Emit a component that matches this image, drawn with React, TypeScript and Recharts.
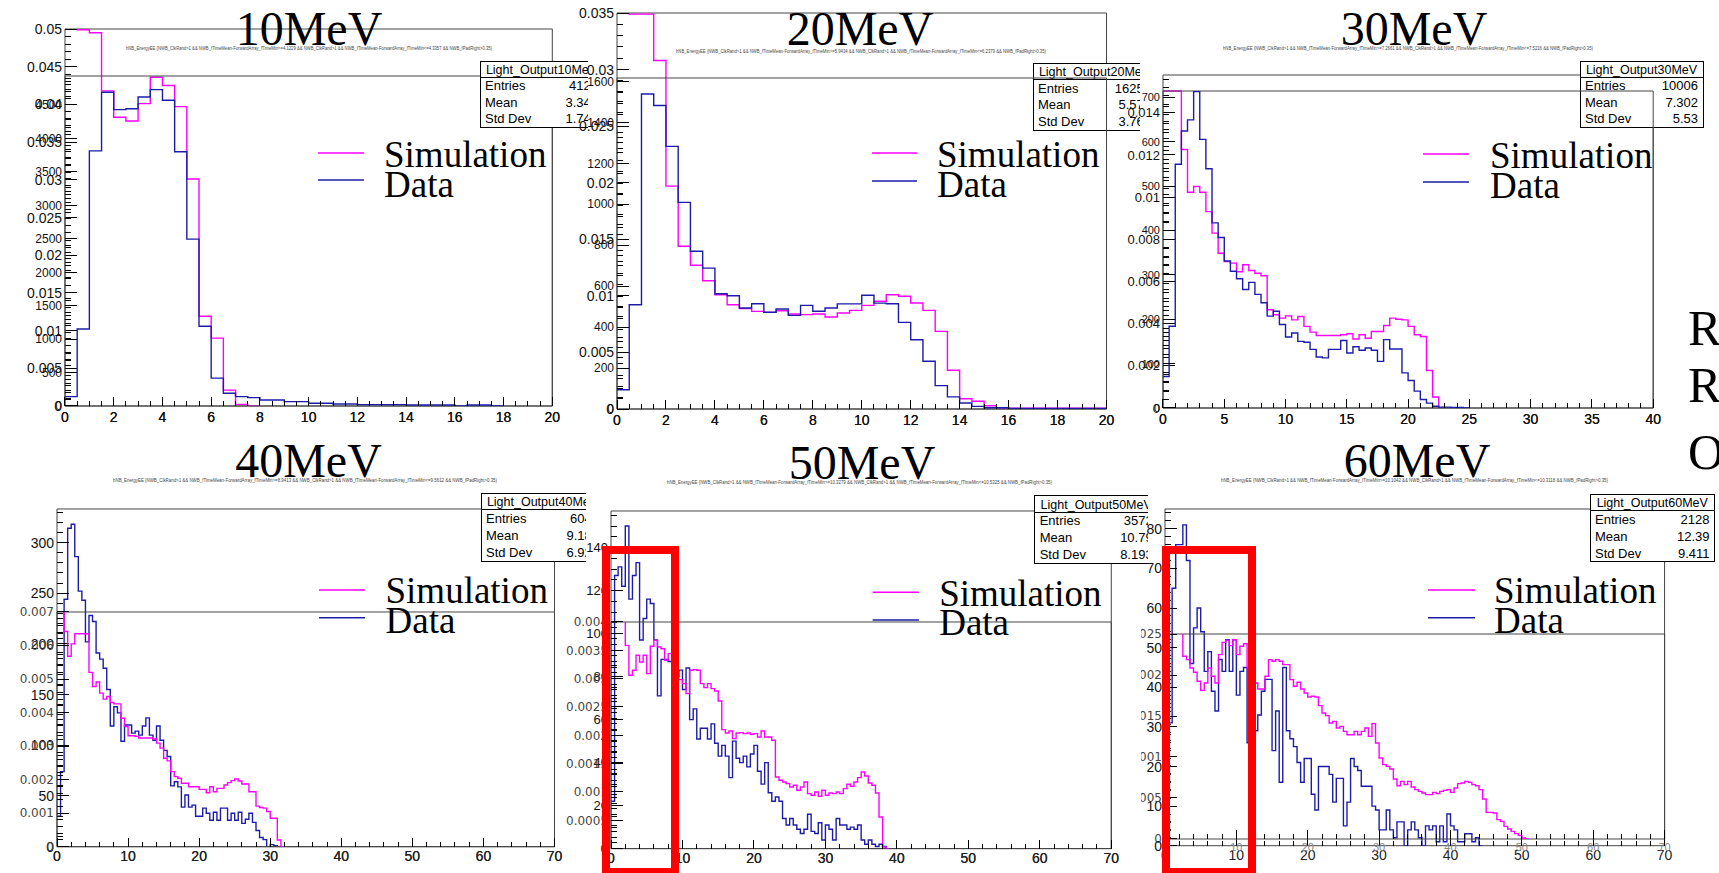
import React from "react";
import { ComposedChart, Line, XAxis, YAxis, ReferenceArea } from "recharts";

const BIN_WIDTH = 0.5;
const SIM_COLOR = "#ff00ff";
const DATA_COLOR = "#1c1ca8";
const SANS = "'Liberation Sans', Arial, sans-serif";
const SERIF = "'Liberation Serif', 'Times New Roman', serif";

// ---- bin contents, 0.5 wide bins starting at 0 ----
// Simulation is read on the normalised axis, Data on the counts axis
const sim10 = [0.06, 0.0499, 0.0495, 0.0418, 0.0383, 0.0378, 0.0401, 0.0436, 0.0425, 0.0397, 0.0301, 0.0119, 0.009, 0.0021, 0.0002, 0];
const data10 = [140, 1152, 3813, 4690, 4430, 4444, 4620, 4730, 4570, 3800, 2495, 1192, 416, 190, 140, 125, 90, 90, 65, 65, 40, 40, 30, 30, 20, 20, 20, 20, 15, 15, 15, 15, 0, 15, 15, 0];

const sim20 = [0.04, 0.0349, 0.0349, 0.0308, 0.0197, 0.01438, 0.0127, 0.01134, 0.0101, 0.00922, 0.00887, 0.00863, 0.00854, 0.00869, 0.0084, 0.00834, 0.0084, 0.00813, 0.00848, 0.00872, 0.00916, 0.00952, 0.0101, 0.00996, 0.00937, 0.00872, 0.00686, 0.00342, 0.00091, 0.00068, 0.00029, 0.00008, 0.00008, 0.00008, 0.00008, 0.00008, 0.00008, 0.00008, 0.00008, 0.00008];
const data20 = [94, 509, 1538, 1482, 1282, 1009, 770, 688, 563, 553, 493, 514, 472, 488, 457, 506, 477, 493, 513, 513, 555, 517, 514, 423, 338, 233, 114, 59, 29, 13, 6, 6, 3, 3, 3, 3, 3, 3, 3, 3];

const sim30 = [0.01503, 0.01503, 0.01503, 0.01226, 0.01023, 0.0105, 0.01023, 0.00931, 0.00829, 0.00734, 0.00694, 0.00687, 0.00646, 0.00679, 0.00652, 0.00639, 0.00627, 0.00466, 0.00442, 0.00426, 0.00437, 0.00418, 0.00434, 0.00387, 0.0036, 0.00344, 0.00344, 0.00344, 0.00344, 0.00347, 0.00352, 0.00327, 0.00347, 0.00331, 0.00363, 0.00363, 0.00391, 0.00426, 0.00421, 0.00418, 0.00387, 0.00347, 0.00339, 0.00178, 0.00052, 0];
const data30 = [71, 184, 549, 624, 649, 713, 605, 539, 417, 384, 331, 308, 291, 267, 283, 256, 237, 207, 218, 188, 160, 169, 150, 148, 132, 115, 113, 132, 132, 152, 124, 138, 130, 135, 130, 105, 154, 133, 133, 79, 62, 38, 19, 11, 4, 2, 2, 1, 1, 0];

const sim40 = [0.0075, 0.0075, 0.00642, 0.00568, 0.00605, 0.00635, 0.00635, 0.00635, 0.00635, 0.0052, 0.00478, 0.00491, 0.00458, 0.0044, 0.00448, 0.0043, 0.00426, 0.00426, 0.00383, 0.00358, 0.00331, 0.00331, 0.00329, 0.00324, 0.00324, 0.00324, 0.00324, 0.00321, 0.00309, 0.00294, 0.00264, 0.00256, 0.00224, 0.00209, 0.00204, 0.00189, 0.00189, 0.00179, 0.00179, 0.00179, 0.00171, 0.00171, 0.00161, 0.00179, 0.00164, 0.00174, 0.00174, 0.00184, 0.00191, 0.00197, 0.00202, 0.00196, 0.00187, 0.00187, 0.00164, 0.00164, 0.00121, 0.00117, 0.00115, 0.00105, 0.00085, 0.00085, 0.0002, 0];
const data40 = [30, 74, 244, 314, 318, 286, 252, 243, 202, 228, 222, 191, 185, 176, 155, 119, 138, 132, 104, 120, 120, 112, 114, 110, 119, 127, 110, 105, 119, 105, 95, 89, 60, 64, 59, 39, 51, 39, 41, 30, 30, 38, 33, 26, 34, 26, 38, 38, 26, 33, 26, 34, 23, 27, 33, 24, 16, 9, 7, 0, 2, 1, 0];

const sim50 = [0.0045, 0.0045, 0.0045, 0.0045, 0.003588, 0.003059, 0.003147, 0.003412, 0.003294, 0.003412, 0.003088, 0.003571, 0.003676, 0.003559, 0.003529, 0.003324, 0.003441, 0.0035, 0.003118, 0.002982, 0.002912, 0.002735, 0.003147, 0.003159, 0.003147, 0.002912, 0.002841, 0.002912, 0.002824, 0.002782, 0.002606, 0.0021, 0.002041, 0.002076, 0.001941, 0.002041, 0.002047, 0.002029, 0.002041, 0.002018, 0.002029, 0.001971, 0.002076, 0.001971, 0.001971, 0.001912, 0.001265, 0.001206, 0.001176, 0.001147, 0.001088, 0.001118, 0.001029, 0.001088, 0.001176, 0.000971, 0.000941, 0.001, 0.000924, 0.001029, 0.000941, 0.000982, 0.000971, 0.001, 0.000971, 0.001059, 0.001135, 0.0011, 0.001176, 0.001253, 0.001353, 0.001282, 0.001159, 0.001118, 0.000982, 0.000559, 0.00003, 0];
const data50 = [22, 127, 131, 122, 150, 116, 127, 133, 97, 107, 116, 114, 97, 71, 88, 88, 87, 85, 80, 83, 74, 84, 60, 65, 51, 56, 56, 51, 58, 49, 43, 48, 43, 33, 50, 42, 40, 43, 38, 44, 48, 36, 30, 40, 26, 22, 24, 22, 14, 11, 14, 11, 9, 7, 9, 16, 8, 7, 12, 4, 11, 9, 4, 14, 11, 11, 9, 10, 9, 11, 4, 2, 4, 2, 1, 2, 1, 0];

const sim60 = [0.003, 0.003, 0.003, 0.003, 0.003, 0.002228, 0.002187, 0.002085, 0.002033, 0.001923, 0.001813, 0.001902, 0.002085, 0.001984, 0.001902, 0.002248, 0.002398, 0.002423, 0.002358, 0.002431, 0.002248, 0.00235, 0.002382, 0.002085, 0.001984, 0.001902, 0.001829, 0.001829, 0.001984, 0.002187, 0.002167, 0.002187, 0.002167, 0.002126, 0.002126, 0.001943, 0.001862, 0.001911, 0.001829, 0.00178, 0.001732, 0.00174, 0.001732, 0.001626, 0.001537, 0.001504, 0.001415, 0.001435, 0.001354, 0.001374, 0.001313, 0.001272, 0.001272, 0.001313, 0.001272, 0.001313, 0.001354, 0.001252, 0.001407, 0.001171, 0.000988, 0.000907, 0.000886, 0.000854, 0.000732, 0.00065, 0.000703, 0.000663, 0.000703, 0.000634, 0.000602, 0.000581, 0.000561, 0.000541, 0.000541, 0.000569, 0.000553, 0.000581, 0.000593, 0.000602, 0.000569, 0.000622, 0.000675, 0.000683, 0.000703, 0.000691, 0.000663, 0.00065, 0.000602, 0.000488, 0.000325, 0.000325, 0.000317, 0.000236, 0.000215, 0.000154, 0.000122, 0.000093, 0.000065, 0.000041, 0.000012, 0];
const data60 = [0, 31, 65, 76, 76, 81, 72, 46, 55, 60, 54, 44, 49, 39, 34, 47, 44, 52, 44, 52, 38, 44, 45, 26, 29, 29, 33, 39, 42, 42, 24, 34, 16, 45, 29, 27, 25, 21, 16, 22, 22, 13, 9, 20, 20, 20, 18, 11, 17, 17, 5, 11, 22, 20, 19, 15, 15, 15, 10, 9, 4, 4, 9, 4, 2, 6, 6, 0, 4, 6, 4, 2, 0, 5, 4, 5, 1, 5, 1, 8, 5, 4, 1, 1, 3, 3, 1, 2, 0];

// ---- axis tick labels ----
const xTicks20 = [0, 2, 4, 6, 8, 10, 12, 14, 16, 18, 20];
const xTicks40 = [0, 5, 10, 15, 20, 25, 30, 35, 40];
const xTicks70 = [0, 10, 20, 30, 40, 50, 60, 70];
const fracTicks10 = [0, 0.005, 0.01, 0.015, 0.02, 0.025, 0.03, 0.035, 0.04, 0.045, 0.05];
const countTicks10 = [0, 500, 1000, 1500, 2000, 2500, 3000, 3500, 4000, 4500];
const fracTicks20 = [0, 0.005, 0.01, 0.015, 0.02, 0.025, 0.03, 0.035];
const countTicks20 = [0, 200, 400, 600, 800, 1000, 1200, 1400, 1600];
const fracTicks30 = [0, 0.002, 0.004, 0.006, 0.008, 0.01, 0.012, 0.014];
const countTicks30 = [0, 100, 200, 300, 400, 500, 600, 700];
const countTicks40 = [0, 50, 100, 150, 200, 250, 300];
const fracTicks40 = [0, 0.001, 0.002, 0.003, 0.004, 0.005, 0.006, 0.007];
const countTicks50 = [0, 20, 40, 60, 80, 100, 120, 140];
const fracTicks50 = [0, 0.0005, 0.001, 0.0015, 0.002, 0.0025, 0.003, 0.0035, 0.004];
const countTicks60 = [0, 10, 20, 30, 40, 50, 60, 70, 80];
const fracTicks60 = [0, 0.0005, 0.001, 0.0015, 0.002, 0.0025];

const FORMULA = (lo: string, hi: string) =>
  `hNB_EnergyEE {NWB_ClkRand>1 && NWB_fTimeMean-ForwardArray_fTimeMin>=${lo} && NWB_ClkRand>1 && NWB_fTimeMean-ForwardArray_fTimeMin<=${hi} && NWB_fPadRight>0.35}`;

type PadSpec = {
  x0: number; y0: number; w: number; h: number;
  xMax: number; xMajor: number[]; xMinor: number;
  xFont: number; xColor: string; xDy: number;
  yMax: number; yMajor: number[]; yMinor: number;
  yFont: number; yColor: string; yFamily?: string;
  vals: number[]; color: string;
};

function toRows(vals: number[]) {
  const rows = vals.map((v, i) => ({ x: i * BIN_WIDTH, v }));
  rows.push({ x: vals.length * BIN_WIDTH, v: vals[vals.length - 1] });
  return rows;
}

function allTicks(max: number, step: number, major: number[]) {
  const out: number[] = [];
  for (let k = 0; k * step <= max + 1e-12; k++) out.push(Number((k * step).toPrecision(10)));
  major.forEach((m) => {
    if (!out.some((t) => Math.abs(t - m) < step * 1e-3)) out.push(m);
  });
  return out.sort((a, b) => a - b);
}

function fmt(v: number) {
  if (Math.abs(v) < 1e-12) return "0";
  return String(Number(v.toPrecision(6)));
}

function Pad({ p, ox, oy }: { p: PadSpec; ox: number; oy: number }) {
  const ML = 80, MR = 18, MT = 12, MB = 30;
  const isMajX = (v: number) => p.xMajor.some((m) => Math.abs(m - v) < p.xMinor * 1e-3);
  const isMajY = (v: number) => p.yMajor.some((m) => Math.abs(m - v) < p.yMinor * 1e-3);
  const xt = allTicks(p.xMax, p.xMinor, p.xMajor);
  const yt = allTicks(p.yMax, p.yMinor, p.yMajor);

  const xTick = (props: any) => {
    const { x, y, payload } = props;
    const maj = isMajX(payload.value);
    return (
      <g>
        <line x1={x} x2={x} y1={y} y2={y - (maj ? 9 : 5)} stroke="#000" strokeWidth={1} shapeRendering="crispEdges" />
        {maj && (
          <text x={x} y={y + p.xDy} textAnchor="middle" fontSize={p.xFont} fill={p.xColor} fontFamily={SANS}>
            {fmt(payload.value)}
          </text>
        )}
      </g>
    );
  };
  const yTick = (props: any) => {
    const { x, y, payload } = props;
    const maj = isMajY(payload.value);
    return (
      <g>
        <line x1={x} x2={x + (maj ? 12 : 6)} y1={y} y2={y} stroke="#000" strokeWidth={1} shapeRendering="crispEdges" />
        {maj && (
          <text x={x - 3} y={y} dy="0.36em" textAnchor="end" fontSize={p.yFont} fill={p.yColor} fontFamily={p.yFamily || SANS}>
            {fmt(payload.value)}
          </text>
        )}
      </g>
    );
  };

  return (
    <div style={{ position: "absolute", left: p.x0 - ML - ox, top: p.y0 - MT - oy }}>
      <ComposedChart
        width={p.w + ML + MR}
        height={p.h + MT + MB}
        data={toRows(p.vals)}
        margin={{ top: MT, right: MR, left: ML - 1, bottom: MB - 1 }}
      >
        <XAxis
          dataKey="x" type="number" domain={[0, p.xMax]} allowDataOverflow ticks={xt} interval={0}
          height={1} tickSize={0} tickMargin={0} axisLine={false} tickLine={false} tick={xTick}
        />
        <YAxis
          type="number" domain={[0, p.yMax]} allowDataOverflow ticks={yt} interval={0}
          width={1} tickSize={0} tickMargin={0} axisLine={false} tickLine={false} tick={yTick}
        />
        <ReferenceArea x1={0} x2={p.xMax} y1={0} y2={p.yMax} fill="none" fillOpacity={0} stroke="#444" strokeWidth={1} ifOverflow="visible" />
        <Line type="stepAfter" dataKey="v" stroke={p.color} strokeWidth={1.4} dot={false} isAnimationActive={false} />
      </ComposedChart>
    </div>
  );
}

type Box = { x: number; y: number; w: number; h: number; title: string; entries: string; mean: string; std: string };
type Legend = { lx1: number; lx2: number; simY: number; dataY: number; tx: number; simBase: number; dataBase: number };
type PanelSpec = {
  crop: [number, number, number, number];
  outer: PadSpec; inner: PadSpec;
  title: string; titleX: number; titleY: number;
  formula: string; fx1: number; fx2: number; fy: number;
  box: Box; boxUnder: boolean; legend: Legend;
};

function StatsBox({ b }: { b: Box }) {
  const rowH = (b.h - 16.5) / 3;
  const rows = [["Entries", b.entries], ["Mean", b.mean], ["Std Dev", b.std]];
  return (
    <g fontFamily={SANS} fontSize={13} fill="#000">
      <rect x={b.x} y={b.y} width={b.w} height={b.h} fill="#fff" stroke="#000" strokeWidth={1} shapeRendering="crispEdges" />
      <line x1={b.x} x2={b.x + b.w} y1={b.y + 16.5} y2={b.y + 16.5} stroke="#000" shapeRendering="crispEdges" />
      <text x={b.x + b.w / 2} y={b.y + 13} textAnchor="middle" fontSize={12.5}>{b.title}</text>
      {rows.map((r, i) => (
        <g key={r[0]}>
          <text x={b.x + 5} y={b.y + 16.5 + rowH * (i + 0.5) + 4.6}>{r[0]}</text>
          <text x={b.x + b.w - 5} y={b.y + 16.5 + rowH * (i + 0.5) + 4.6} textAnchor="end">{r[1]}</text>
        </g>
      ))}
    </g>
  );
}

function Panel({ s }: { s: PanelSpec }) {
  const [cx, cy, cw, ch] = s.crop;
  const L = s.legend;
  const under = (
    <svg width={cw} height={ch} style={{ position: "absolute", left: 0, top: 0 }}>
      <g transform={`translate(${-cx},${-cy})`}>{s.boxUnder && <StatsBox b={s.box} />}</g>
    </svg>
  );
  return (
    <div style={{ position: "absolute", left: cx, top: cy, width: cw, height: ch, overflow: "hidden" }}>
      <Pad p={s.outer} ox={cx} oy={cy} />
      {under}
      <Pad p={s.inner} ox={cx} oy={cy} />
      <svg width={cw} height={ch} style={{ position: "absolute", left: 0, top: 0 }}>
        <g transform={`translate(${-cx},${-cy})`}>
          {!s.boxUnder && <StatsBox b={s.box} />}
          <text x={s.titleX} y={s.titleY} textAnchor="middle" fontFamily={SERIF} fontSize={48} fill="#000">{s.title}</text>
          <text x={s.fx1} y={s.fy} fontFamily={SANS} fontSize={4.5} fill="#444" textLength={s.fx2 - s.fx1} lengthAdjust="spacingAndGlyphs">{s.formula}</text>
          <line x1={L.lx1} x2={L.lx2} y1={L.simY} y2={L.simY} stroke={SIM_COLOR} strokeWidth={1.6} />
          <line x1={L.lx1} x2={L.lx2} y1={L.dataY} y2={L.dataY} stroke={DATA_COLOR} strokeWidth={1.6} />
          <text x={L.tx} y={L.simBase} fontFamily={SERIF} fontSize={37} fill="#000">Simulation</text>
          <text x={L.tx} y={L.dataBase} fontFamily={SERIF} fontSize={37} fill="#000">Data</text>
        </g>
      </svg>
    </div>
  );
}

const row1X = { xFont: 14, xColor: "#111", xDy: 16 };
const row2X = { xFont: 14, xColor: "#222", xDy: 14 };

const panels: PanelSpec[] = [
  {
    crop: [0, 0, 588, 432],
    outer: { x0: 64.7, y0: 29, w: 487.3, h: 377, xMax: 20, xMajor: xTicks20, xMinor: 0.5, ...row1X, yMax: 0.05, yMajor: fracTicks10, yMinor: 0.001, yFont: 14, yColor: "#111", vals: sim10, color: SIM_COLOR },
    inner: { x0: 64.7, y0: 76, w: 487.3, h: 330, xMax: 20, xMajor: xTicks20, xMinor: 0.5, ...row1X, yMax: 4933, yMajor: countTicks10, yMinor: 100, yFont: 12, yColor: "#111", vals: data10, color: DATA_COLOR },
    title: "10MeV", titleX: 309, titleY: 45,
    formula: FORMULA("4.1229", "4.3357"), fx1: 126, fx2: 492, fy: 50,
    box: { x: 480, y: 61, w: 123, h: 66, title: "Light_Output10MeV", entries: "4125", mean: "3.345", std: "1.742" },
    boxUnder: false,
    legend: { lx1: 318, lx2: 364, simY: 153, dataY: 180, tx: 384, simBase: 167, dataBase: 197 },
  },
  {
    crop: [566, 0, 574, 432],
    outer: { x0: 617.3, y0: 13.3, w: 489.5, h: 396, xMax: 20, xMajor: xTicks20, xMinor: 0.5, ...row1X, yMax: 0.035, yMajor: fracTicks20, yMinor: 0.001, yFont: 14, yColor: "#111", vals: sim20, color: SIM_COLOR },
    inner: { x0: 617.3, y0: 78.3, w: 489.5, h: 331, xMax: 20, xMajor: xTicks20, xMinor: 0.5, ...row1X, yMax: 1616, yMajor: countTicks20, yMinor: 50, yFont: 12, yColor: "#111", vals: data20, color: DATA_COLOR },
    title: "20MeV", titleX: 860, titleY: 45,
    formula: FORMULA("5.9434", "6.2379"), fx1: 676, fx2: 1046, fy: 53,
    box: { x: 1033, y: 63, w: 123, h: 67, title: "Light_Output20MeV", entries: "16253", mean: "5.573", std: "3.763" },
    boxUnder: true,
    legend: { lx1: 872, lx2: 917, simY: 153, dataY: 181, tx: 937, simBase: 167, dataBase: 197 },
  },
  {
    crop: [1116, 0, 603, 432],
    outer: { x0: 1163.3, y0: 75, w: 490.2, h: 333, xMax: 40, xMajor: xTicks40, xMinor: 1, ...row1X, yMax: 0.01579, yMajor: fracTicks30, yMinor: 0.0004, yFont: 13, yColor: "#111", vals: sim30, color: SIM_COLOR },
    inner: { x0: 1163.3, y0: 91, w: 490.2, h: 317, xMax: 40, xMajor: xTicks40, xMinor: 1, ...row1X, yMax: 714, yMajor: countTicks30, yMinor: 20, yFont: 11, yColor: "#111", vals: data30, color: DATA_COLOR },
    title: "30MeV", titleX: 1414, titleY: 45,
    formula: FORMULA("7.2661", "7.5216"), fx1: 1223, fx2: 1593, fy: 50,
    box: { x: 1580, y: 61, w: 123, h: 66, title: "Light_Output30MeV", entries: "10006", mean: "7.302", std: "5.53" },
    boxUnder: true,
    legend: { lx1: 1423, lx2: 1469, simY: 154, dataY: 182, tx: 1490, simBase: 168, dataBase: 198 },
  },
  {
    crop: [0, 432, 586, 441],
    outer: { x0: 57.3, y0: 509.3, w: 497.5, h: 337.7, xMax: 70, xMajor: xTicks70, xMinor: 2, ...row2X, yMax: 333, yMajor: countTicks40, yMinor: 10, yFont: 14, yColor: "#111", vals: data40, color: DATA_COLOR },
    inner: { x0: 57.3, y0: 612.3, w: 497.5, h: 234.7, xMax: 70, xMajor: xTicks70, xMinor: 2, ...row2X, yMax: 0.007, yMajor: fracTicks40, yMinor: 0.0002, yFont: 12, yColor: "#444", yFamily: "'DejaVu Sans', sans-serif", vals: sim40, color: SIM_COLOR },
    title: "40MeV", titleX: 308.5, titleY: 477,
    formula: FORMULA("8.9413", "9.5612"), fx1: 113, fx2: 497, fy: 482,
    box: { x: 481, y: 493.3, w: 123, h: 67.7, title: "Light_Output40MeV", entries: "6043", mean: "9.183", std: "6.921" },
    boxUnder: false,
    legend: { lx1: 319, lx2: 365, simY: 590, dataY: 617.7, tx: 385.5, simBase: 603.3, dataBase: 632.7 },
  },
  {
    crop: [556, 432, 592, 441],
    outer: { x0: 610.7, y0: 510.7, w: 500.3, h: 337.6, xMax: 70, xMajor: xTicks70, xMinor: 2, ...row2X, yMax: 157, yMajor: countTicks50, yMinor: 5, yFont: 13, yColor: "#111", vals: data50, color: DATA_COLOR },
    inner: { x0: 610.7, y0: 621.7, w: 500.3, h: 226.6, xMax: 70, xMajor: xTicks70, xMinor: 2, ...row2X, yMax: 0.004, yMajor: fracTicks50, yMinor: 0.0001, yFont: 12, yColor: "#444", yFamily: "'DejaVu Sans', sans-serif", vals: sim50, color: SIM_COLOR },
    title: "50MeV", titleX: 862, titleY: 479,
    formula: FORMULA("10.3279", "10.5325"), fx1: 667, fx2: 1052, fy: 484,
    box: { x: 1034.7, y: 495.7, w: 123, h: 67.3, title: "Light_Output50MeV", entries: "3572", mean: "10.79", std: "8.193" },
    boxUnder: false,
    legend: { lx1: 872.6, lx2: 919, simY: 592.3, dataY: 620, tx: 939.2, simBase: 605.7, dataBase: 635 },
  },
  {
    crop: [1141, 432, 578, 441],
    outer: { x0: 1165, y0: 509.3, w: 499.6, h: 336.7, xMax: 70, xMajor: xTicks70, xMinor: 2, ...row2X, yMax: 85, yMajor: countTicks60, yMinor: 2, yFont: 14, yColor: "#111", vals: data60, color: DATA_COLOR },
    inner: { x0: 1165, y0: 634.3, w: 499.6, h: 205, xMax: 70, xMajor: xTicks70, xMinor: 2, xFont: 11, xColor: "#888", xDy: 12, yMax: 0.0025, yMajor: fracTicks60, yMinor: 0.0001, yFont: 12, yColor: "#444", yFamily: "'DejaVu Sans', sans-serif", vals: sim60, color: SIM_COLOR },
    title: "60MeV", titleX: 1417, titleY: 477,
    formula: FORMULA("10.1042", "10.3118"), fx1: 1221, fx2: 1608, fy: 482,
    box: { x: 1590, y: 494.3, w: 124.5, h: 67.4, title: "Light_Output60MeV", entries: "2128", mean: "12.39", std: "9.411" },
    boxUnder: false,
    legend: { lx1: 1428, lx2: 1475, simY: 590, dataY: 617.7, tx: 1494, simBase: 603.3, dataBase: 632.7 },
  },
];

const redBoxes = [
  { left: 601.7, top: 546, width: 77.6, height: 330 },
  { left: 1161.7, top: 546, width: 94.3, height: 330 },
];

export default function App() {
  return (
    <div style={{ position: "absolute", left: 0, top: 0, width: 1719, height: 873, overflow: "hidden", background: "#fff" }}>
      {panels.map((s) => (
        <Panel key={s.title} s={s} />
      ))}
      <svg width={1719} height={873} style={{ position: "absolute", left: 0, top: 0, pointerEvents: "none" }}>
        <g fontFamily={SERIF} fontSize={50} fill="#000">
          <text x={1688} y={345}>R</text>
          <text x={1688} y={402}>R</text>
          <text x={1688} y={469}>O</text>
        </g>
      </svg>
      {redBoxes.map((r, i) => (
        <div
          key={i}
          style={{ position: "absolute", left: r.left, top: r.top, width: r.width, height: r.height, border: "8px solid #ff0000", boxSizing: "border-box" }}
        />
      ))}
    </div>
  );
}
